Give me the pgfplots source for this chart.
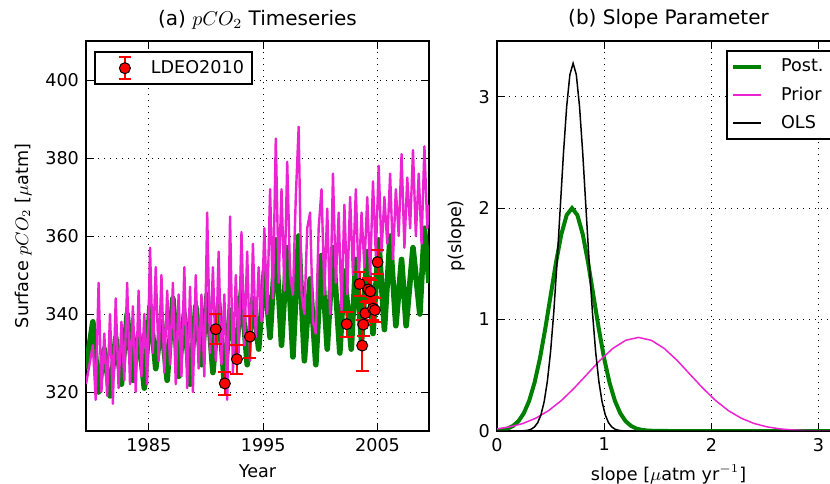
\documentclass[border=0pt]{standalone}
\usepackage{fontspec}
\setmainfont{DejaVu Sans}
\usepackage{pgfplots}
\pgfplotsset{compat=1.18}
\definecolor{mplgreen}{RGB}{0,128,0}
\definecolor{mplpink}{RGB}{235,35,210}

\pgfplotsset{
  mplbox/.style={
    scale only axis, width=171.5pt, height=195pt,
    font=\fontsize{8.8}{10.5}\selectfont,
    axis line style={line width=1pt},
    tick align=inside, xtick pos=both, ytick pos=both,
    major tick length=4pt,
    tick style={black, line width=0.5pt},
    grid=major,
    major grid style={black, line width=0.5pt, dash pattern=on 0.6pt off 2.4pt},
    /pgf/number format/assume math mode=true,
    /pgf/number format/1000 sep={},
    legend cell align=left,
    title style={font=\fontsize{10}{12}\selectfont, yshift=-3.5pt},
  }
}

\begin{document}
\begin{tikzpicture}
\begin{axis}[mplbox, at={(43pt,26pt)}, anchor=south west,
  xmin=1979.5, xmax=2009.5, ymin=310, ymax=410,
  xtick={1985,1995,2005}, ytick={320,340,...,400},
  title={(a) $pCO_2$ Timeseries},
  xlabel={Year}, ylabel={Surface $pCO_2$ [$\mu$atm]},
  legend style={at={(0.023,0.974)}, anchor=north west, draw=black,
    line width=1pt, inner sep=2pt, font=\fontsize{8.8}{10.5}\selectfont},
  legend image code/.code={
    \path[draw=none, fill=none] (0pt,0pt) -- (24pt,0pt);
    \draw[red, line width=1pt] (13pt,-5.5pt) -- (13pt,5.5pt)
      (10pt,5.5pt) -- (16pt,5.5pt) (10pt,-5.5pt) -- (16pt,-5.5pt);
    \draw[black, fill=red, line width=0.5pt] (13pt,0pt) circle (2.75pt);
  },
]
\addplot[mplgreen, line width=2.8pt, line join=round, forget plot] coordinates {
(1979.5,326)
(1980.1,338) (1980.6,320) (1981.1,331) (1981.6,319) (1982.1,334) (1982.6,322)
(1983.1,340) (1983.6,323) (1984.1,335) (1984.6,321) (1985.1,342) (1985.6,326)
(1986.1,338) (1986.6,323) (1987.1,344) (1987.6,324) (1988.1,340) (1988.6,322)
(1989.1,342) (1989.6,327) (1990.1,345) (1990.6,325) (1991.1,343) (1991.6,322)
(1992.1,341) (1992.6,329) (1993.1,346) (1993.6,327) (1994.1,344) (1994.6,331)
(1995.1,351) (1995.6,334) (1996.1,359) (1996.6,332) (1997.1,357) (1997.6,329)
(1998.1,360) (1998.6,328) (1999.1,349) (1999.6,327) (2000.1,355) (2000.6,331)
(2001.1,357) (2001.7,330) (2002.1,351) (2002.7,331) (2003.1,354) (2003.6,333)
(2004.1,356) (2004.6,335) (2005.1,359) (2005.6,336) (2006.1,360) (2006.6,337)
(2007.1,354) (2007.5,337) (2008.1,357) (2008.7,340) (2009.1,362) (2009.5,348)
};
\addplot[mplpink, line width=1.2pt, line join=round, forget plot] coordinates {
(1979.5,322)
(1980.1,332) (1980.35,318) (1980.6,348) (1980.85,320)
(1981.1,335) (1981.35,319) (1981.6,340) (1981.85,317)
(1982.1,344) (1982.35,321) (1982.6,338) (1982.85,323)
(1983.1,348) (1983.35,322) (1983.6,342) (1983.85,320)
(1984.1,346) (1984.35,324) (1984.6,340) (1984.85,322)
(1985.1,357) (1985.35,330) (1985.6,352) (1985.85,328)
(1986.1,350) (1986.35,325) (1986.6,346) (1986.85,327)
(1987.1,348) (1987.35,322) (1987.6,345) (1987.85,324)
(1988.1,352) (1988.35,321) (1988.6,347) (1988.85,320)
(1989.1,350) (1989.35,326) (1989.6,345) (1989.85,324)
(1990.1,366) (1990.35,330) (1990.6,352) (1990.85,328)
(1991.1,356) (1991.35,327) (1991.6,345) (1991.85,318)
(1992.1,365) (1992.35,325) (1992.6,350) (1992.85,330)
(1993.1,361) (1993.35,332) (1993.6,356) (1993.85,328)
(1994.1,358) (1994.35,334) (1994.6,352) (1994.85,338)
(1995.1,362) (1995.35,340) (1995.6,372) (1995.85,344)
(1996.1,385) (1996.35,348) (1996.6,372) (1996.85,346)
(1997.1,379) (1997.35,350) (1997.6,345) (1997.85,370)
(1998.1,388) (1998.35,345) (1998.6,340) (1998.85,362)
(1999.1,366) (1999.35,338) (1999.6,335) (1999.85,362)
(2000.1,372) (2000.35,345) (2000.6,367) (2000.85,340)
(2001.1,376) (2001.35,348) (2001.6,366) (2001.85,341)
(2002.1,368) (2002.35,345) (2002.6,370) (2002.85,350)
(2003.1,372) (2003.35,348) (2003.6,366) (2003.85,352)
(2004.1,370) (2004.35,350) (2004.6,374) (2004.85,355)
(2005.1,378) (2005.35,356) (2005.6,370) (2005.85,358)
(2006.1,376) (2006.35,354) (2006.6,372) (2006.85,360)
(2007.1,381) (2007.35,357) (2007.6,375) (2007.85,362)
(2008.1,382) (2008.35,360) (2008.6,376) (2008.85,358)
(2009.1,383) (2009.35,362) (2009.5,368)
};
\addplot[only marks, mark=*, mark size=2.75pt,
  mark options={fill=red, draw=black, line width=0.5pt},
  error bars/.cd, y dir=both, y explicit,
  error bar style={red, line width=1pt},
  error mark options={red, line width=1pt, mark size=3.25pt, rotate=90}]
  table[x=t, y=v, y error=e] {
t v e
1990.85 336.1 3.8
1991.64 322.2 3.0
1992.70 328.4 3.7
1993.84 334.2 5.4
2002.30 337.4 3.2
2003.43 347.7 3.0
2003.66 331.9 6.5
2003.75 337.3 3.0
2003.93 340.2 3.0
2004.19 346.3 3.0
2004.37 345.8 3.0
2004.60 341.4 3.0
2004.77 341.0 3.0
2005.00 353.3 3.0
};
\addlegendentry{LDEO2010}
\end{axis}

\begin{axis}[mplbox, at={(248.5pt,26pt)}, anchor=south west,
  xmin=0, xmax=3.2, ymin=0, ymax=3.5,
  xtick={0,1,2,3}, ytick={0,1,2,3},
  title={(b) Slope Parameter},
  xlabel={slope [$\mu$atm yr$^{-1}$]}, ylabel={p(slope)},
  legend style={at={(0.668,0.977)}, anchor=north west, draw=black,
    line width=1pt, inner sep=2pt, row sep=2pt,
    font=\fontsize{8.8}{10.5}\selectfont},
  legend image code/.code={\path[draw=none, fill=none] (0pt,0pt) -- (22pt,0pt); \draw[#1] (0pt,0pt) -- (14pt,0pt);},
]
\addplot[mplgreen, line width=2pt] coordinates {
(0,0.0044) (0.05,0.010) (0.1,0.022) (0.15,0.046) (0.2,0.088) (0.25,0.159)
(0.3,0.271) (0.35,0.433) (0.4,0.649) (0.45,0.916) (0.5,1.213) (0.55,1.510)
(0.6,1.765) (0.65,1.938) (0.7,2.0) (0.75,1.938) (0.8,1.765) (0.85,1.510)
(0.9,1.213) (0.95,0.916) (1.0,0.649) (1.05,0.433) (1.1,0.271) (1.15,0.159)
(1.2,0.088) (1.25,0.046) (1.3,0.022) (1.35,0.010) (1.4,0.0044) (1.45,0.0018)
(1.5,0.0007) (1.6,0) (3.2,0)
};
\addlegendentry{Post.}
\addplot[mplpink, line width=0.75pt] coordinates {
(0,0.019) (0.12,0.037) (0.24,0.067) (0.36,0.114) (0.48,0.182) (0.60,0.273)
(0.72,0.385) (0.84,0.509) (0.96,0.634) (1.08,0.741) (1.20,0.814) (1.32,0.840)
(1.44,0.814) (1.56,0.741) (1.68,0.634) (1.80,0.509) (1.92,0.385) (2.04,0.273)
(2.16,0.182) (2.28,0.114) (2.40,0.067) (2.52,0.037) (2.64,0.019) (2.76,0.0093)
(2.88,0.0043) (3.00,0.0018) (3.10,0.0008) (3.2,0.0003)
};
\addlegendentry{Prior}
\addplot[black, line width=0.75pt] coordinates {
(0,0) (0.20,0) (0.23,0.0011) (0.26,0.0029) (0.29,0.0073) (0.32,0.017) (0.35,0.037)
(0.38,0.075) (0.41,0.145) (0.44,0.263) (0.47,0.447) (0.50,0.714) (0.53,1.071)
(0.56,1.511) (0.59,2.001) (0.62,2.491) (0.65,2.912) (0.68,3.198) (0.71,3.30)
(0.74,3.198) (0.77,2.912) (0.80,2.491) (0.83,2.001) (0.86,1.511) (0.89,1.071)
(0.92,0.714) (0.95,0.447) (0.98,0.263) (1.01,0.145) (1.04,0.075) (1.07,0.037)
(1.10,0.017) (1.13,0.0073) (1.16,0.0029) (1.19,0.0011) (1.22,0) (3.2,0)
};
\addlegendentry{OLS}
\end{axis}
\pgfresetboundingbox
\path[use as bounding box] (0,0) rectangle (415pt,241.5pt);
\end{tikzpicture}
\end{document}
